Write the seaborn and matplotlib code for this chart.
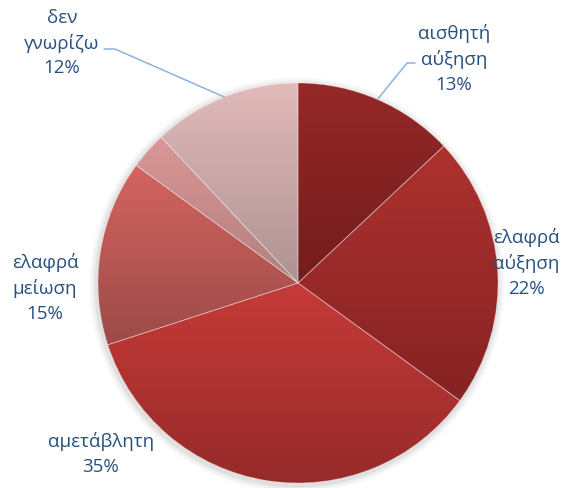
import matplotlib
matplotlib.use("Agg")
import matplotlib.pyplot as plt
import matplotlib.colors as mcolors
import seaborn as sns
import numpy as np

labels = ["αισθητή\nαύξηση", "ελαφρά\nαύξηση", "αμετάβλητη", "ελαφρά\nμείωση", "", "δεν\nγνωρίζω"]
values = [13, 22, 35, 15, 3, 12]
top_colors = ["#962828", "#ad3230", "#c63b38", "#d46460", "#dc9696", "#e2baba"]
bottom_colors = ["#731c1c", "#862222", "#962a2a", "#9c4a48", "#b08080", "#ae9292"]

sns.set_theme(style="white")
plt.rcParams["font.family"] = ["Open Sans", "DejaVu Sans"]

text_color = "#27507f"
line_color = "#8db3e2"

fig = plt.figure(figsize=(5.69, 4.88), dpi=100)
ax = fig.add_axes([0, 0, 1, 1])

wedges, _ = ax.pie(
    values,
    colors=top_colors,
    startangle=90,
    counterclock=False,
    radius=1,
    wedgeprops=dict(edgecolor=(1, 1, 1, 0.35), linewidth=0.6),
)

# faint shadow around the pie
for i, a in enumerate([0.05, 0.04, 0.03]):
    ax.add_patch(plt.Circle((-0.005, -0.01), 1.0 + 0.012 * (i + 1),
                            color="black", alpha=a, zorder=0, lw=0))

# vertical gradient inside each slice
for w, ct, cb in zip(wedges, top_colors, bottom_colors):
    bb = w.get_path().get_extents()
    t = np.linspace(0, 1, 256)[:, None]
    c1 = np.array(mcolors.to_rgb(ct))
    c2 = np.array(mcolors.to_rgb(cb))
    grad = (1 - t)[:, :, None] * c1 + t[:, :, None] * c2
    im = ax.imshow(grad, extent=[bb.x0, bb.x1, bb.y0, bb.y1], origin="upper",
                   aspect="auto", interpolation="bilinear", zorder=2)
    im.set_clip_path(w)
    w.set_zorder(3)
    w.set_facecolor("none")

# label positions (axes data units, pie radius = 1)
label_pos = [(0.78, 1.12), (1.14, 0.10), (-0.985, -0.855), (-1.265, -0.025), None, (-1.18, 1.20)]
total = sum(values)
for lab, v, pos in zip(labels, values, label_pos):
    if pos is None:
        continue
    ax.text(pos[0], pos[1], f"{lab}\n{round(100 * v / total)}%", ha="center", va="center",
            fontsize=13.5, color=text_color, linespacing=1.45)

# leader lines for the two top labels
def mid_point(w):
    ang = np.deg2rad((w.theta1 + w.theta2) / 2)
    return np.cos(ang) * w.r, np.sin(ang) * w.r

ex, ey = mid_point(wedges[5])
ax.plot([-0.97, -0.915, ex], [1.17, 1.17, ey], color=line_color, lw=1.1, zorder=4)
ex, ey = mid_point(wedges[0])
ax.plot([0.585, 0.545, ex], [1.10, 1.10, ey], color=line_color, lw=1.1, zorder=4)

ax.set_xlim(-1.49, 1.355)
ax.set_ylim(-1.025, 1.415)
ax.set_aspect("equal")
ax.axis("off")

fig.savefig("out.png", dpi=100)
